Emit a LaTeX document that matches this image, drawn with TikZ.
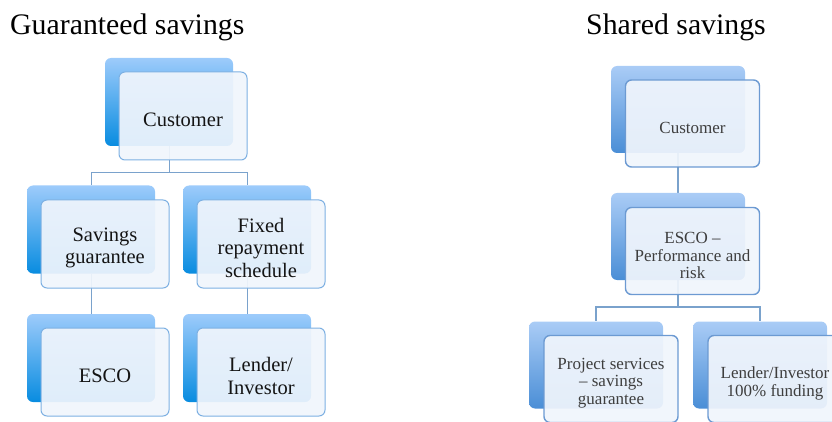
\documentclass[tikz,border=0pt]{standalone}
\usepackage{fontspec}
\setmainfont{Liberation Serif}
\definecolor{backtopL}{RGB}{157,203,251}
\definecolor{backbotL}{RGB}{8,140,224}
\definecolor{backtopR}{RGB}{170,204,246}
\definecolor{backbotR}{RGB}{74,142,214}
\definecolor{frontfill}{RGB}{240,245,252}
\definecolor{frontedgeL}{RGB}{125,176,226}
\definecolor{frontedgeR}{RGB}{108,154,210}
\definecolor{linkcol}{RGB}{122,162,204}
\definecolor{txtR}{RGB}{62,62,62}
\begin{document}
\begin{tikzpicture}[x=1pt,y=-1pt,
  backL/.style={rectangle,rounded corners=6pt,minimum width=128pt,minimum height=88pt,inner sep=0pt,top color=backtopL,bottom color=backbotL,draw=none},
  frontL/.style={rectangle,rounded corners=6pt,minimum width=128pt,minimum height=88pt,inner sep=0pt,fill=frontfill,fill opacity=0.93,draw=frontedgeL,draw opacity=1,line width=1pt},
  backR/.style={rectangle,rounded corners=6pt,minimum width=134pt,minimum height=87pt,inner sep=0pt,top color=backtopR,bottom color=backbotR,draw=none},
  frontR/.style={rectangle,rounded corners=6pt,minimum width=134pt,minimum height=87pt,inner sep=0pt,fill=frontfill,fill opacity=0.93,draw=frontedgeR,draw opacity=1,line width=1.4pt},
  lblL/.style={align=center,inner sep=0pt,text=black!92,font=\fontsize{20.5}{22.5}\selectfont},
  lblR/.style={align=center,inner sep=0pt,text=txtR,font=\fontsize{17}{17.6}\selectfont},
  link/.style={draw=linkcol,line width=1pt},
  linkR/.style={draw=linkcol,line width=1.6pt},
  title/.style={inner sep=0pt,font=\fontsize{29.8}{32}\selectfont}]
\useasboundingbox (0,0) rectangle (832,422);
\clip (0,0) rectangle (832,422);

% titles
\node[title,anchor=base west] (tl) at (10,35) {Guaranteed savings};
\node[title,anchor=base] (tr) at (676,35) {Shared savings};

% junctions
\coordinate (jL) at (169,173);
\coordinate (jR) at (678,307);

% back box placeholders (for connectors drawn underneath)
\path (169,102) node[backL,fill opacity=0] (cb) {};
\path (91,229.5) node[backL,fill opacity=0] (ab) {};
\path (247,229.5) node[backL,fill opacity=0] (bb) {};
\path (91,358) node[backL,fill opacity=0] (eb) {};
\path (247,358) node[backL,fill opacity=0] (lb) {};

\path[link] (cb.south) -- (jL) -| (ab.north);
\path[link] (jL) -| (bb.north);
\path[link] (ab.south) -- (eb.north);
\path[link] (bb.south) -- (lb.north);

\path (678,109.5) node[backR,fill opacity=0] (rcb) {};
\path (678,236.5) node[backR,fill opacity=0] (reb) {};
\path (596,365) node[backR,fill opacity=0] (rpb) {};
\path (760,365) node[backR,fill opacity=0] (rlb) {};

\path[linkR] (rcb.south) -- (reb.north);
\path[linkR] (reb.south) -- (jR) -| (rpb.north);
\path[linkR] (jR) -| (rlb.north);

% back boxes
\node[backL] (cb2) at (cb) {};
\node[backL] (ab2) at (ab) {};
\node[backL] (bb2) at (bb) {};
\node[backL] (eb2) at (eb) {};
\node[backL] (lb2) at (lb) {};
\node[backR] (rcb2) at (rcb) {};
\node[backR] (reb2) at (reb) {};
\node[backR] (rpb2) at (rpb) {};
\node[backR] (rlb2) at (rlb) {};

% front boxes
\node[frontL] (cf) at (183,116) {};
\node[frontL] (af) at (105,244) {};
\node[frontL] (bf) at (261,244) {};
\node[frontL] (ef) at (105,372) {};
\node[frontL] (lf) at (261,372) {};
\node[frontR] (rcf) at (692.5,123.5) {};
\node[frontR] (ref) at (692.5,251) {};
\node[frontR] (rpf) at (611,379) {};
\node[frontR] (rlf) at (775,379) {};

% labels
\node[lblL] (ct) at ([yshift=-4pt]cf.center) {Customer};
\node[lblL] (at) at ([yshift=-4pt]af.center) {Savings\\guarantee};
\node[lblL] (bt) at ([yshift=-3.5pt]bf.center) {Fixed\\repayment\\schedule};
\node[lblL] (et) at ([yshift=-4pt]ef.center) {ESCO};
\node[lblL] (lt) at ([yshift=-4pt]lf.center) {Lender/\\Investor};
\node[lblR] (rct) at ([yshift=-4.5pt]rcf.center) {Customer};
\node[lblR] (ret) at ([yshift=-4.5pt]ref.center) {ESCO –\\Performance and\\risk};
\node[lblR] (rpt) at ([yshift=-4pt]rpf.center) {Project services\\– savings\\guarantee};
\node[lblR] (rlt) at ([yshift=-4.5pt]rlf.center) {Lender/Investor\\100\% funding};
\end{tikzpicture}
\end{document}
